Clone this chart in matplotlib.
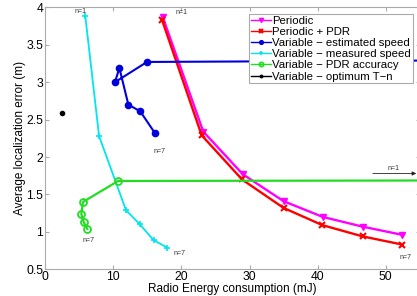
import matplotlib
matplotlib.use("Agg")
import matplotlib.pyplot as plt

plt.rcParams['font.family'] = ['Liberation Sans', 'DejaVu Sans']

#=================== DONNEES ===============================

per_x = [17.25, 23.2, 29.0, 35.0, 40.75, 46.6, 52.45]
per_y = [3.87, 2.34, 1.77, 1.41, 1.20, 1.07, 0.96]

pdr_x = [17.15, 22.97, 28.9, 35.0, 40.7, 46.6, 52.45]
pdr_y = [3.83, 2.29, 1.70, 1.32, 1.09, 0.94, 0.83]

est_x = [80.0, 14.94, 10.24, 10.88, 12.2, 13.95, 16.1]
est_y = [3.30, 3.27, 3.00, 3.19, 2.70, 2.61, 2.32]

mes_x = [5.88, 7.9, 11.85, 13.9, 15.9, 17.9]
mes_y = [3.88, 2.28, 1.29, 1.10, 0.89, 0.79]

acc_x = [80.0, 10.7, 5.54, 5.29, 5.64, 6.17]
acc_y = [1.69, 1.68, 1.40, 1.24, 1.13, 1.04]

opt_x = [2.4]
opt_y = [2.59]

labels = ["Periodic", "Periodic + PDR", "Variable \u2212 estimated speed",
          "Variable \u2212 measured speed", "Variable \u2212 PDR accuracy",
          "Variable \u2212 optimum T\u2212n"]

#=================== FIGURE ===============================

fig = plt.figure(figsize=(4.17, 2.96), dpi=100)
ax = fig.add_axes([0.1086, 0.0902, 0.898, 0.8851])

ax.plot(per_x, per_y, color='#ff00ff', marker='v', ms=5, lw=1.7,
        mfc='#ff00ff', label=labels[0])
ax.plot(pdr_x, pdr_y, color='#ff0000', marker='x', ms=4.5, mew=1.5, lw=1.7,
        label=labels[1])
ax.plot(est_x, est_y, color='#0000dd', marker='o', ms=4.5, lw=1.5,
        label=labels[2])
ax.plot(mes_x, mes_y, color='#00e5ee', marker='+', ms=5, mew=1.2, lw=1.3,
        label=labels[3])
ax.plot(acc_x, acc_y, color='#22dd22', marker='o', ms=5, mfc='none', mew=1.3,
        lw=1.6, label=labels[4])
ax.plot(opt_x, opt_y, color='black', marker='.', ms=6, lw=0.6,
        label=labels[5])

# annotations n=
fs = 5
ax.text(4.3, 3.92, "n=1", fontsize=fs, color='#333333')
ax.text(19.1, 3.91, "n=1", fontsize=fs, color='#333333')
ax.text(15.9, 2.05, "n=7", fontsize=fs, color='#333333')
ax.text(5.5, 0.86, "n=7", fontsize=fs, color='#333333')
ax.text(18.8, 0.69, "n=7", fontsize=fs, color='#333333')
ax.text(52.0, 0.64, "n=7", fontsize=fs, color='#333333')
ax.text(50.3, 1.83, "n=1", fontsize=fs, color='#333333')
ax.annotate("", xy=(54.9, 1.78), xytext=(47.7, 1.78),
            arrowprops=dict(arrowstyle='-|>', color='#222222', lw=0.6,
                            mutation_scale=6))

ax.set_xlim(0, 55)
ax.set_ylim(0.5, 4)
ax.set_xticks([0, 10, 20, 30, 40, 50])
ax.set_yticks([0.5, 1, 1.5, 2, 2.5, 3, 3.5, 4])
ax.set_yticklabels(["0.5", "1", "1.5", "2", "2.5", "3", "3.5", "4"])
ax.tick_params(direction='in', top=True, right=True, labelsize=8.7,
               length=3, color='#aaaaaa', pad=1.5)
for s in ax.spines.values():
    s.set_color('#aaaaaa')
    s.set_linewidth(0.8)
ax.set_xlabel("Radio Energy consumption (mJ)", fontsize=8.5, labelpad=0)
ax.set_ylabel("Average localization error (m)", fontsize=8.5, labelpad=0)

leg = ax.legend(loc='upper left', bbox_to_anchor=(0.544, 0.974), fontsize=8.2,
                handlelength=1.75, handletextpad=0.15, borderpad=0.15,
                labelspacing=0.1, borderaxespad=0, fancybox=False,
                framealpha=1, edgecolor='#aaaaaa', markerscale=0.6)
leg.get_frame().set_linewidth(0.8)
for h in leg.get_lines():
    h.set_linewidth(1.0)

fig.savefig("out.png", dpi=100)
